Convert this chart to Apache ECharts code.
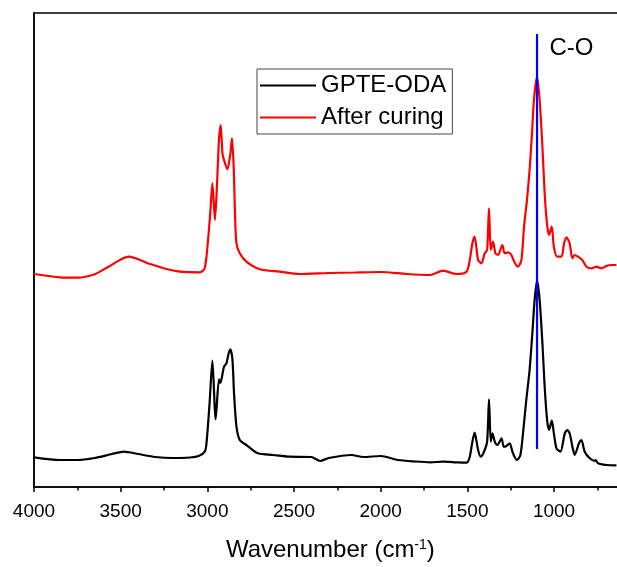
<!DOCTYPE html>
<html>
<head>
<meta charset="utf-8">
<script src="https://cdn.jsdelivr.net/npm/echarts@6/dist/echarts.min.js"></script>
<style>
  html, body { margin: 0; padding: 0; background: #fff; }
  #chart { width: 617px; height: 567px; }
</style>
</head>
<body>
<div id="chart"></div>
<script>
// FTIR spectra, absorbance in arbitrary units (traces are offset vertically)
const gpteWn = [4000, 3850, 3750, 3650, 3550, 3480, 3400, 3300, 3200, 3100, 3050, 3015, 3005, 2987,
  2971, 2952, 2933, 2925, 2904, 2890, 2877, 2867, 2855, 2846, 2832, 2813, 2775, 2708, 2621, 2525,
  2400, 2350, 2300, 2170, 2100, 2000, 1900, 1800, 1715, 1640, 1563, 1505, 1486, 1471, 1458, 1438,
  1423, 1404, 1386, 1375, 1365, 1355, 1342, 1327, 1303, 1290, 1275, 1256, 1237, 1214, 1194, 1179,
  1160, 1141, 1125, 1112, 1098, 1083, 1067, 1054, 1040, 1029, 1013, 1001, 986, 963, 938, 923, 910,
  894, 881, 856, 842, 823, 794, 765, 760, 746, 698, 640];
const gpteAbs = [29.7, 27, 27, 29, 33, 35.3, 33, 30, 29, 29.5, 31, 35.3, 43.7, 84,
  126.3, 67.7, 107.7, 104, 120.3, 123.7, 133.7, 137.7, 127, 93.7, 60.3, 47, 42, 33.7, 32, 30.3,
  30, 26, 29, 32, 30, 31, 27, 25.5, 24.7, 25.3, 24.7, 24.3, 30.3, 45.3, 54.3, 37,
  30.3, 35.3, 45.3, 87.7, 45.3, 53.7, 45.3, 42, 48.7, 40.3, 41, 43.7, 33.7, 27, 32, 53.7,
  87, 117, 153.7, 187, 206.3, 187, 143.7, 100.3, 67, 57, 66.3, 53.7, 38.7, 35.3, 53.7, 57, 53.7,
  40.3, 32, 43.7, 47, 35.3, 28.7, 26, 27, 23.7, 22, 21.7];

const curedWn = [4000, 3850, 3750, 3650, 3570, 3454, 3330, 3230, 3159, 3044, 3015, 2996, 2982,
  2971, 2956, 2944, 2933, 2923, 2913, 2904, 2884, 2867, 2858, 2848, 2840, 2832, 2813, 2775, 2698,
  2583, 2467, 2300, 2150, 2000, 1850, 1715, 1640, 1563, 1505, 1486, 1471, 1458, 1438, 1419, 1400,
  1386, 1375, 1365, 1352, 1338, 1323, 1298, 1285, 1265, 1246, 1227, 1208, 1188, 1173, 1156, 1141,
  1127, 1116, 1098, 1083, 1067, 1054, 1040, 1029, 1013, 1001, 982, 957, 942, 928, 910, 894, 881,
  862, 837, 813, 784, 756, 727, 698, 669, 640];
const curedAbs = [213, 209.7, 209.3, 212.7, 220.3, 230.3, 223, 217.7, 215.3, 214.7, 218.7, 247, 277,
  303.7, 267, 303.7, 347, 362, 333.7, 327, 317.7, 333.7, 348.7, 320.3, 270.3, 243.7, 233.7, 225.3, 217.7,
  215.3, 213, 214, 214.5, 215, 213, 212, 216.3, 213, 215.3, 227, 243.7, 250.3, 227, 223.7, 233.7,
  237, 278.7, 237, 245.3, 233.7, 232, 242, 233.7, 234.7, 232, 224.3, 220.3, 227, 260.3, 287, 317,
  353.7, 387, 410.3, 387, 340.3, 293.7, 262, 252, 260.3, 240.3, 230.3, 230.3, 243.7, 249.7, 243.7, 228.7, 232,
  230.3, 227, 220.3, 218.7, 220.3, 218.7, 221, 222, 222];

// C-O stretching band marker
const coBand = 1098;
const coRange = [38, 453];

const xTicks = { min: 500, max: 4000, step: 500 };

const zip = (xs, ys) => xs.map((x, i) => [x, ys[i]]);
const FONT = 'Liberation Sans, Arial, sans-serif';

const chart = echarts.init(document.getElementById('chart'), null, { renderer: 'canvas' });
chart.setOption({
  animation: false,
  backgroundColor: '#fff',
  textStyle: { fontFamily: FONT },
  grid: {
    left: 34, top: 13, width: 606.7, height: 474,
    outerBoundsMode: 'none', containLabel: false,
    show: true, borderColor: '#000', borderWidth: 1.5
  },
  legend: {
    data: ['GPTE-ODA', 'After curing'],
    orient: 'vertical',
    left: 257, top: 69,
    icon: 'rect',
    itemWidth: 56, itemHeight: 2, itemGap: 5,
    padding: [3, 6, 3, 3],
    borderColor: '#444', borderWidth: 1,
    textStyle: { fontSize: 24, color: '#000', fontFamily: FONT, lineHeight: 27 }
  },
  xAxis: {
    type: 'value',
    inverse: true,
    min: xTicks.min, max: xTicks.max, interval: xTicks.step,
    name: 'Wavenumber (cm{sup|-1})',
    nameLocation: 'middle',
    nameGap: 51,
    nameTextStyle: {
      fontSize: 24, color: '#000', fontFamily: FONT, padding: [0, 14, 0, 0],
      rich: { sup: { fontSize: 14, verticalAlign: 'top', padding: [0, 0, 10, 0], color: '#000', fontFamily: FONT } }
    },
    axisLine: { show: true, lineStyle: { color: '#000', width: 1.5 } },
    axisTick: { show: true, inside: false, length: 5, lineStyle: { color: '#000', width: 1.5 } },
    minorTick: { show: true, splitNumber: 2, length: 3.5, lineStyle: { color: '#000', width: 1.5 } },
    axisLabel: { fontSize: 19, color: '#000', margin: 15, fontFamily: FONT, formatter: v => String(v) },
    splitLine: { show: false }
  },
  yAxis: {
    type: 'value', min: 0, max: 474,
    axisLine: { show: true, lineStyle: { color: '#000', width: 1.5 } },
    axisTick: { show: false }, axisLabel: { show: false }, splitLine: { show: false }
  },
  series: [
    {
      name: 'GPTE-ODA', type: 'line', data: zip(gpteWn, gpteAbs),
      showSymbol: false, symbol: 'none', smooth: 0.25,
      lineStyle: { color: '#000', width: 2.2 }, itemStyle: { color: '#000' }, z: 3
    },
    {
      name: 'After curing', type: 'line', data: zip(curedWn, curedAbs),
      showSymbol: false, symbol: 'none', smooth: 0.25,
      lineStyle: { color: '#ff0000', width: 2.2 }, itemStyle: { color: '#ff0000' }, z: 3
    },
    {
      name: 'C-O', type: 'line', data: [[coBand, coRange[0]], [coBand, coRange[1]]],
      showSymbol: false, symbol: 'none',
      lineStyle: { color: '#0000ff', width: 2.2 }, itemStyle: { color: '#0000ff' }, z: 4,
      endLabel: {
        show: true, formatter: 'C-O', fontSize: 24, color: '#000', fontFamily: FONT,
        distance: 0, align: 'left', offset: [12.5, 14]
      }
    }
  ]
});
</script>
</body>
</html>
